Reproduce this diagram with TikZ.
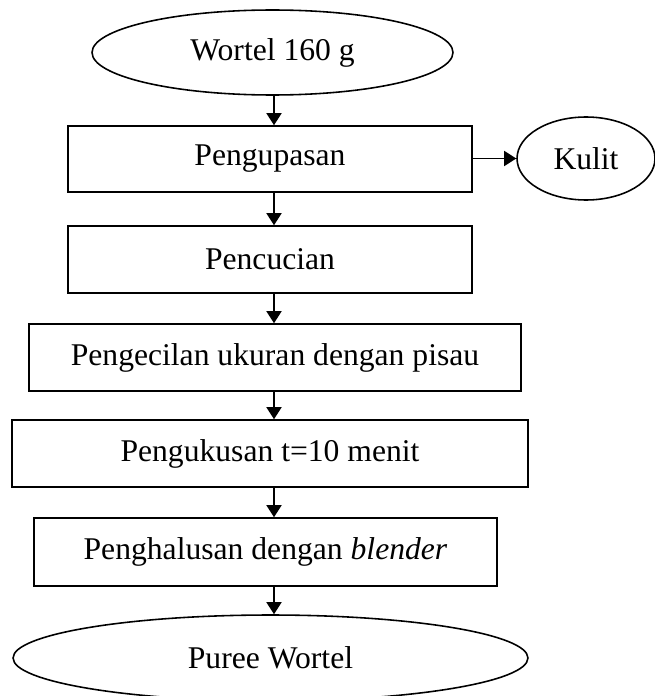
\documentclass[tikz,border=0pt]{standalone}
\usepackage{fontspec}
\setmainfont{Liberation Serif}
\usepackage{tikz}
\usetikzlibrary{arrows.meta,shapes.geometric}

\begin{document}
\begin{tikzpicture}[x = 0.02cm, y = -0.02cm, anno/.style = {line width = 0.9pt,-{Triangle[length = 2.4mm, width = 3mm]}}]
    \useasboundingbox (0,0) rectangle (655,696);
    \tikzstyle{b}=[rectangle,draw,line width = 0.9pt,inner sep=0pt,minimum height = 1.34cm,font=\fontsize{18}{22}\selectfont]
    \tikzstyle{e}=[ellipse,draw,line width = 0.9pt,inner sep=0pt,font=\fontsize{18}{22}\selectfont]
    \node[e, minimum width = 7.22cm, minimum height = 1.7cm] (wortel) at (272.5,52.5) {Wortel 160 g};
    \node[b, minimum width = 8.08cm, minimum height = 1.32cm] (kupas) at (270,159) {Pengupasan};
    \node[b, minimum width = 8.08cm] (cuci) at (270,259.5) {Pencucian};
    \node[b, minimum width = 9.84cm] (kecil) at (275,357.5) {Pengecilan ukuran dengan pisau};
    \node[b, minimum width = 10.32cm] (kukus) at (270,453.5) {Pengukusan t=10 menit};
    \node[b, minimum width = 9.26cm, minimum height = 1.36cm] (halus) at (265.5,552) {Penghalusan dengan \textit{blender}};
    \node[e, minimum width = 10.3cm, minimum height = 1.72cm] (puree) at (270.5,658) {Puree Wortel};
    \node[e, minimum width = 2.76cm, minimum height = 1.66cm] (kulit) at (586,158.5) {Kulit};

    \coordinate (ax) at (274,0);
    \draw [anno] (wortel.south -| ax) to (kupas.north -| ax);
    \draw [anno] (kupas.south -| ax) to (cuci.north -| ax);
    \draw [anno] (cuci.south -| ax) to (kecil.north -| ax);
    \draw [anno] (kecil.south -| ax) to (kukus.north -| ax);
    \draw [anno] (kukus.south -| ax) to (halus.north -| ax);
    \draw [anno] (halus.south -| ax) to (puree.north -| ax);
    \draw [anno] (kupas.east |- kulit.west) to (kulit.west);
\end{tikzpicture}
\end{document}
